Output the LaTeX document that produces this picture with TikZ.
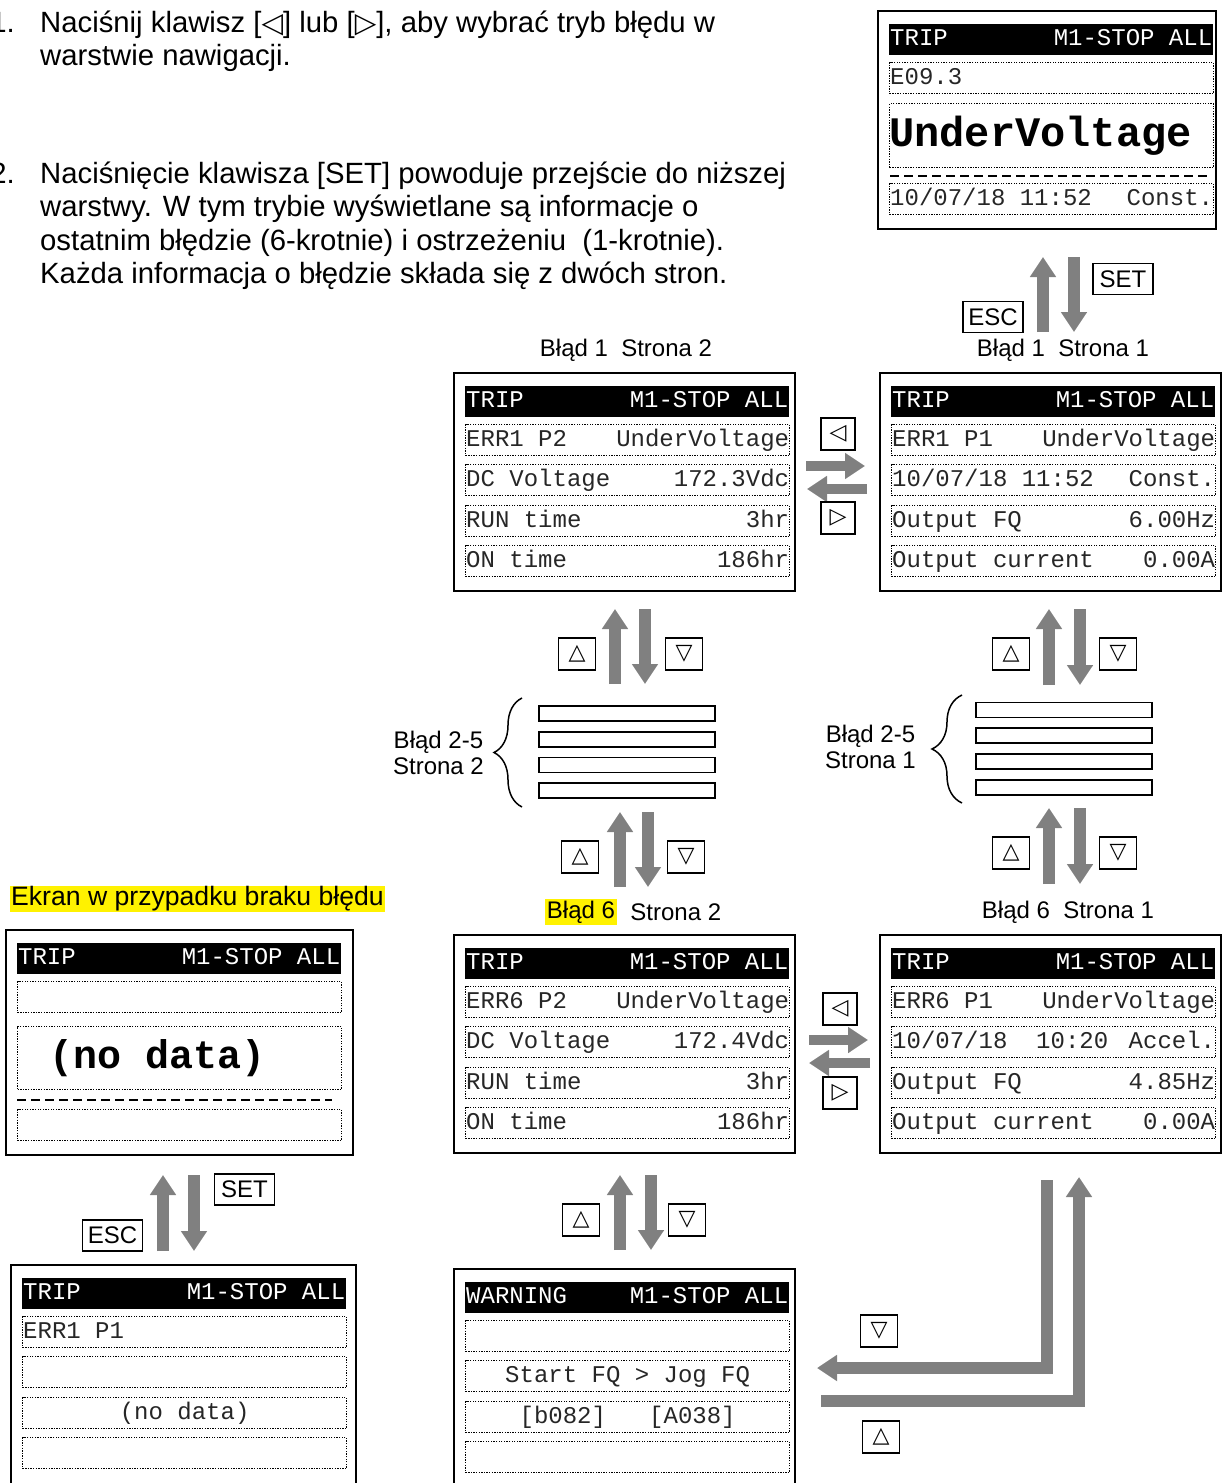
\documentclass[tikz,border=0pt]{standalone}
\usepackage{fontspec}
\setmainfont{Liberation Sans}
\newfontfamily\lcdfont{Liberation Mono}
\newfontfamily\symfont{DejaVu Sans}
\usetikzlibrary{arrows.meta,positioning,calc,decorations.pathreplacing}
\definecolor{arrowgray}{HTML}{808080}
\tikzset{
  screenbox/.style={draw, line width=2pt, minimum width=341pt, minimum height=218pt, inner sep=0pt},
  headbar/.style={fill=black, minimum width=324pt, minimum height=31pt, inner sep=0pt},
  lcdline/.style={draw, line width=1.3pt, dash pattern=on 1.3pt off 1.3pt, minimum width=324pt, minimum height=31pt, inner sep=0pt},
  lcdtxt/.style={font=\lcdfont\fontsize{24}{24}\selectfont, text=black!85, inner sep=1pt, text height=17pt, text depth=5pt},
  bigtxt/.style={font=\lcdfont\bfseries\fontsize{42}{42}\selectfont, inner sep=0pt},
  sepdash/.style={line width=2.5pt, dash pattern=on 9pt off 5pt},
  para/.style={font=\fontsize{29.3}{33.5}\selectfont, inner sep=0pt},
  lbltxt/.style={font=\fontsize{24}{26}\selectfont, inner sep=1.5pt},
  keybox/.style={draw, line width=1.5pt, minimum width=37pt, minimum height=32pt, inner sep=0pt, font=\symfont\fontsize{22}{22}\selectfont},
  keytxt/.style={draw, line width=1.5pt, minimum width=60pt, minimum height=31pt, inner sep=0pt, font=\fontsize{24}{24}\selectfont},
  stackbar/.style={draw, line width=1.8pt, minimum width=176pt, minimum height=15pt, inner sep=0pt},
  blockarrow/.style={draw=arrowgray, line width=12pt, -{Triangle[length=20pt, width=25pt]}},
  flatarrow/.style={blockarrow, line width=10pt},
  stackbrace/.style={decorate, decoration={brace, amplitude=28pt}, line width=1.5pt}
}
% header bar and dotted rows of one screen
\newcommand{\lcdhead}[3]{%
  \node[headbar, anchor=north west] (#1-h) at ($(#1.north west)+(12,14)$) {};
  \node[lcdtxt, text=white, anchor=west] at (#1-h.west) {#2};
  \node[lcdtxt, text=white, anchor=east] at (#1-h.east) {#3};}
\newcommand{\lcdrow}[5]{%
  \node[lcdline, anchor=north west] (#1-#2) at ($(#1.north west)+(12,#3)$) {};
  \node[lcdtxt, anchor=west] at (#1-#2.west) {#4};
  \node[lcdtxt, anchor=east] at (#1-#2.east) {#5};}
% up/down arrow pair: ref point, x up, x down, y tips, y tails
\newcommand{\vpair}[5]{%
  \draw[blockarrow] ($(#1)+(#2,#5)$) -- ($(#1)+(#2,#4)$);
  \draw[blockarrow] ($(#1)+(#3,#4)$) -- ($(#1)+(#3,#5)$);}
\newcommand{\lt}{{\symfont\fontsize{28}{28}\selectfont ◁}}
\newcommand{\rt}{{\symfont\fontsize{28}{28}\selectfont ▷}}

\begin{document}
\begin{tikzpicture}[x=1pt, y=-1pt]
  \useasboundingbox (0,0) rectangle (1223,1483);

  % instructions
  \node[para, anchor=base west] (p1a) at (40,32) {Naciśnij klawisz [\lt] lub [\rt], aby wybrać tryb błędu w};
  \node[para, anchor=base west] (p1b) at (40,65.5) {warstwie nawigacji.};
  \node[para, anchor=base west] (p2a) at (40,183) {Naciśnięcie klawisza [SET] powoduje przejście do niższej};
  \node[para, anchor=base west] (p2b) at (40,216.5) {warstwy. W tym trybie wyświetlane są informacje o};
  \node[para, anchor=base west] (p2c) at (40,250) {ostatnim błędzie (6-krotnie) i ostrzeżeniu\ \ (1-krotnie).};
  \node[para, anchor=base west] (p2d) at (40,283.5) {Każda informacja o błędzie składa się z dwóch stron.};
  \node[para, anchor=base east] at (15,32) {1.};
  \node[para, anchor=base east] at (15,183) {2.};

  % error mode screen
  \node[screenbox, minimum width=338pt, anchor=north west] (errscr) at (877,10) {};
  \lcdhead{errscr}{TRIP}{M1-STOP ALL}
  \lcdrow{errscr}{r1}{52}{E09.3}{}
  \node[lcdline, minimum height=64pt, anchor=north west] (errscr-big) at ($(errscr.north west)+(12,93)$) {};
  \node[bigtxt, anchor=west] at (errscr-big.west) {UnderVoltage};
  \draw[sepdash] ($(errscr.north west)+(13,166)$) -- ($(errscr.north west)+(334,166)$);
  \lcdrow{errscr}{r3}{173}{10/07/18 11:52}{Const.}

  % error 1
  \node[screenbox, anchor=north west] (e1p2) at (453,372) {};
  \lcdhead{e1p2}{TRIP}{M1-STOP ALL}
  \lcdrow{e1p2}{r1}{52}{ERR1 P2}{UnderVoltage}
  \lcdrow{e1p2}{r2}{92}{DC Voltage}{172.3Vdc}
  \lcdrow{e1p2}{r3}{133}{RUN time}{3hr}
  \lcdrow{e1p2}{r4}{173}{ON time}{186hr}

  \node[screenbox, anchor=north west] (e1p1) at (879,372) {};
  \lcdhead{e1p1}{TRIP}{M1-STOP ALL}
  \lcdrow{e1p1}{r1}{52}{ERR1 P1}{UnderVoltage}
  \lcdrow{e1p1}{r2}{92}{10/07/18 11:52}{Const.}
  \lcdrow{e1p1}{r3}{133}{Output FQ}{6.00Hz}
  \lcdrow{e1p1}{r4}{173}{Output current}{0.00A}

  % error 6
  \node[screenbox, anchor=north west] (e6p2) at (453,934) {};
  \lcdhead{e6p2}{TRIP}{M1-STOP ALL}
  \lcdrow{e6p2}{r1}{52}{ERR6 P2}{UnderVoltage}
  \lcdrow{e6p2}{r2}{92}{DC Voltage}{172.4Vdc}
  \lcdrow{e6p2}{r3}{133}{RUN time}{3hr}
  \lcdrow{e6p2}{r4}{173}{ON time}{186hr}

  \node[screenbox, anchor=north west] (e6p1) at (879,934) {};
  \lcdhead{e6p1}{TRIP}{M1-STOP ALL}
  \lcdrow{e6p1}{r1}{52}{ERR6 P1}{UnderVoltage}
  \lcdrow{e6p1}{r2}{92}{10/07/18\ \ 10:20}{Accel.}
  \lcdrow{e6p1}{r3}{133}{Output FQ}{4.85Hz}
  \lcdrow{e6p1}{r4}{173}{Output current}{0.00A}

  % warning
  \node[screenbox, anchor=north west] (warn) at (453,1268) {};
  \lcdhead{warn}{WARNING}{M1-STOP ALL}
  \lcdrow{warn}{r1}{52}{}{}
  \lcdrow{warn}{r2}{92}{}{}
  \node[lcdtxt] at (warn-r2) {Start FQ > Jog FQ};
  \lcdrow{warn}{r3}{133}{}{}
  \node[lcdtxt] at (warn-r3) {[b082]\ \ \ [A038]};
  \lcdrow{warn}{r4}{173}{}{}

  % no error
  \node[lbltxt, font=\fontsize{26.6}{26.6}\selectfont, fill=yellow, anchor=west, inner sep=1pt] (noerrlbl) at (10,899) {Ekran w przypadku braku błędu};
  \node[screenbox, minimum width=347pt, minimum height=225pt, anchor=north west] (nodata) at (5,929) {};
  \lcdhead{nodata}{TRIP}{M1-STOP ALL}
  \lcdrow{nodata}{r1}{52}{}{}
  \node[lcdline, minimum height=63pt, anchor=north west] (nodata-big) at ($(nodata.north west)+(12,97)$) {};
  \node[bigtxt, font=\lcdfont\bfseries\fontsize{40}{40}\selectfont, anchor=west] at ($(nodata-big.west)+(32,0)$) {(no data)};
  \draw[sepdash] ($(nodata.north west)+(12,171)$) -- ($(nodata.north west)+(327,171)$);
  \lcdrow{nodata}{r3}{180}{}{}

  \node[screenbox, minimum width=345pt, minimum height=240pt, anchor=north west] (noerr) at (10,1264) {};
  \lcdhead{noerr}{TRIP}{M1-STOP ALL}
  \lcdrow{noerr}{r1}{52}{ERR1 P1}{}
  \lcdrow{noerr}{r2}{92}{}{}
  \lcdrow{noerr}{r3}{133}{}{}
  \node[lcdtxt] at (noerr-r3) {(no data)};
  \lcdrow{noerr}{r4}{173}{}{}

  % page labels
  \node[lbltxt] at ($(e1p2.north)+(1.5,-22)$) {Błąd 1\ \ Strona 2};
  \node[lbltxt] at ($(e1p1.north)+(12.5,-22)$) {Błąd 1\ \ Strona 1};
  \node[lbltxt, fill=yellow] (b6) at ($(e6p2.north)+(-43.5,-22)$) {Błąd 6};
  \node[lbltxt, anchor=west] at ($(b6.east)+(12,0)$) {Strona 2};
  \node[lbltxt] at ($(e6p1.north)+(17.5,-22)$) {Błąd 6\ \ Strona 1};

  % errors 2-5
  \foreach \i in {0,...,3} {
    \node[stackbar] (sl\i) at (627,{713.5+25.7*\i}) {};
    \node[stackbar] (sr\i) at (1064,{710+25.7*\i}) {};
  }
  \draw[stackbrace] (522,807) -- (522,698);
  \draw[stackbrace, decoration={amplitude=30pt}] (962,803) -- (962,695);
  \node[lbltxt, align=center, anchor=east, inner sep=0pt] at (484,752.5) {Błąd 2-5\\Strona 2};
  \node[lbltxt, align=center, anchor=east, inner sep=0pt] at (916,747) {Błąd 2-5\\Strona 1};

  % ESC / SET
  \vpair{errscr.south}{-4}{27}{27}{102}
  \node[keytxt] at ($(errscr.south)+(76,49)$) {SET};
  \node[keytxt] at ($(errscr.south)+(-54,87)$) {ESC};
  \vpair{nodata.south}{-16.5}{14.5}{19}{95}
  \node[keytxt] at ($(nodata.south)+(65,33.5)$) {SET};
  \node[keytxt] at ($(nodata.south)+(-67,79.5)$) {ESC};

  % left / right
  \draw[flatarrow] ($(e1p2.east)+(10,-16)$) -- ($(e1p2.east)+(69,-16)$);
  \draw[flatarrow] ($(e1p2.east)+(71,7)$) -- ($(e1p2.east)+(11,7)$);
  \node[keybox, minimum width=34pt] at ($(e1p2.east)+(42,-48)$) {◁};
  \node[keybox, minimum width=34pt] at ($(e1p2.east)+(42,36)$) {▷};
  \draw[flatarrow] ($(e6p2.east)+(13,-4)$) -- ($(e6p2.east)+(72,-4)$);
  \draw[flatarrow] ($(e6p2.east)+(74,19)$) -- ($(e6p2.east)+(13,19)$);
  \node[keybox, minimum width=34pt] at ($(e6p2.east)+(44,-35)$) {◁};
  \node[keybox, minimum width=34pt] at ($(e6p2.east)+(44,49)$) {▷};

  % up / down
  \vpair{e1p2.south}{-9.5}{20.5}{17}{92}
  \node[keybox] at ($(e1p2.south)+(-47.5,62)$) {△};
  \node[keybox] at ($(e1p2.south)+(59.5,62)$) {▽};
  \vpair{e6p2.north}{-4.5}{23.5}{-122}{-47}
  \node[keybox] at ($(e6p2.north)+(-44.5,-77)$) {△};
  \node[keybox] at ($(e6p2.north)+(61.5,-77)$) {▽};
  \vpair{e6p2.south}{-4.5}{26.5}{21}{96}
  \node[keybox] at ($(e6p2.south)+(-43.5,66)$) {△};
  \node[keybox] at ($(e6p2.south)+(62.5,66)$) {▽};
  \vpair{e1p1.south}{-1.5}{29.5}{17}{93}
  \node[keybox] at ($(e1p1.south)+(-39.5,62)$) {△};
  \node[keybox] at ($(e1p1.south)+(67.5,62)$) {▽};
  \vpair{e6p1.north}{-1.5}{29.5}{-126}{-50}
  \node[keybox] at ($(e6p1.north)+(-39.5,-81)$) {△};
  \node[keybox] at ($(e6p1.north)+(67.5,-81)$) {▽};

  % error 6 <-> warning
  \draw[blockarrow] ($(e6p1.south)+(-3.5,26)$) |- ($(warn.east)+(21,-10)$);
  \draw[blockarrow] ($(warn.east)+(25,23)$) -| ($(e6p1.south)+(28.5,23)$);
  \node[keybox] at ($(warn.east)+(83,-47)$) {▽};
  \node[keybox] at ($(warn.east)+(85,59)$) {△};
\end{tikzpicture}
\end{document}
